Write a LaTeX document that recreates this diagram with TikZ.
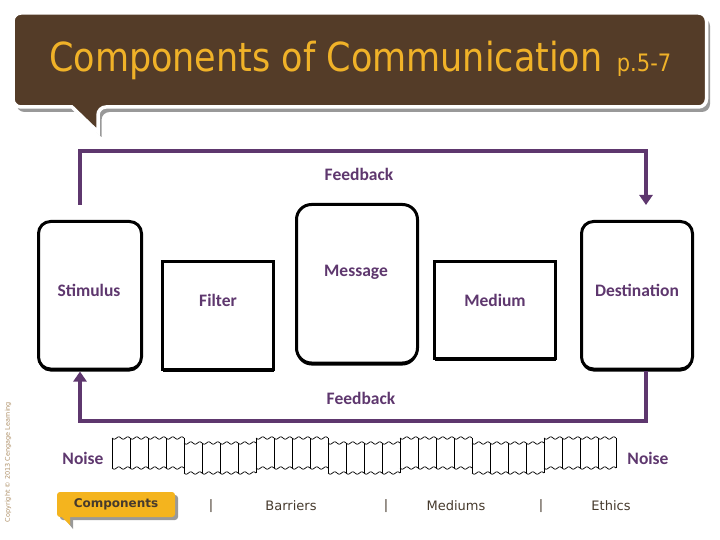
\documentclass[tikz,border=0pt]{standalone}
\usepackage{fontspec}
\usepackage{tikz}
\usetikzlibrary{arrows.meta,shadows}
\newfontfamily\lblfont{Carlito}
\newfontfamily\ttlfont[FakeStretch=0.875]{DejaVu Sans}
\newfontfamily\menufont{DejaVu Sans}
\definecolor{ttlbrown}{RGB}{84,60,40}
\definecolor{ttlgold}{RGB}{240,178,40}
\definecolor{fbpurple}{RGB}{94,55,110}
\definecolor{menubrown}{RGB}{70,58,45}
\definecolor{btngold}{RGB}{244,180,30}
\definecolor{copytan}{RGB}{175,145,105}

\begin{document}
\begin{tikzpicture}[x=1pt,y=-1pt,
  box/.style n args={2}{draw,fill=white,line width=3pt,minimum width=#1,minimum height=#2,inner sep=0pt,drop shadow={shadow xshift=0pt,shadow yshift=-2.5pt,fill=black,opacity=1}},
  rbox/.style n args={3}{box={#1}{#2},rounded corners=#3},
  lbl/.style={font=\lblfont\bfseries\fontsize{17.5}{21}\selectfont,text=fbpurple,inner sep=0pt},
  ttl/.style={font=\ttlfont\fontsize{40}{44}\selectfont,text=ttlgold,inner sep=0pt},
  fb/.style={draw=fbpurple,line width=4pt,-{Triangle[width=13pt,length=10pt]}},
  wave/.style={line width=0.7pt},
  menu/.style={font=\menufont\fontsize{13}{15}\selectfont,text=menubrown,inner sep=0pt},
  btn/.style={fill=btngold,rounded corners=3pt,minimum width=118pt,minimum height=25pt,inner sep=0pt,font=\menufont\bfseries\fontsize{12}{14}\selectfont,text=menubrown,drop shadow={shadow xshift=3pt,shadow yshift=-3pt,fill=gray!80,opacity=1}}]
\useasboundingbox (0,0) rectangle (720,540);
% title banner
\path[fill=ttlbrown,draw=white,line width=3.5pt,drop shadow={shadow xshift=3.5pt,shadow yshift=-5pt,fill=gray!80,opacity=1}]
  (98,107) -- (98,132) -- (72,107) [rounded corners=8pt] -- (13,107) -- (13,13) -- (706.5,13) -- (706.5,107) -- cycle;
\node[ttl,anchor=base west] (ttl) at (49,72) {Components of Communication};
\node[ttl,anchor=base west,font=\ttlfont\fontsize{24}{28}\selectfont] (pg) at ([xshift=14pt]ttl.base east) {p.5-7};
% boxes
\node[rbox={103pt}{147.5pt}{12pt}] (stim) at (90,295.25) {};
\node[box={111pt}{107.5pt}] (filt) at (218,315.25) {};
\node[rbox={121pt}{158.5pt}{15pt}] (msg) at (357,283.75) {};
\node[box={121pt}{96.5pt}] (med) at (495,309.75) {};
\node[rbox={111pt}{147.5pt}{12pt}] (dest) at (637,295.25) {};
\node[lbl] (stimT) at (89,290) {Stimulus};
\node[lbl] (filtT) at (218,300) {Filter};
\node[lbl] (msgT) at (356,272) {Message};
\node[lbl] (medT) at (495,300) {Medium};
\node[lbl] (destT) at (637,290) {Destination};
% feedback loops
\coordinate (fbL) at (80,0);
\coordinate (fbR) at (646,0);
\draw[fb,shorten <=15pt,shorten >=15pt] (stim.north -| fbL) -- ++(0,-68.5) -| (dest.north -| fbR);
\draw[fb,shorten >=1pt] (dest.south -| fbR) -- ++(0,50.5) -| (stim.south -| fbL);
\node[lbl] (fbTop) at (359,174) {Feedback};
\node[lbl] (fbBot) at (361,398) {Feedback};
% noise band
\node[lbl] (noiseL) at (83,458) {Noise};
\node[lbl] (noiseR) at (648,458) {Noise};
\foreach \k in {0,...,6} {
  \pgfmathsetmacro\xa{112+72*\k}
  \pgfmathsetmacro\ya{438+5*mod(\k,2)}
  \draw[wave] plot[domain=0:72,samples=73,smooth] ({\xa+\x},{\ya+1.2*sin(40*\x)});
  \draw[wave] plot[domain=0:72,samples=73,smooth] ({\xa+\x},{\ya+30+1.2*sin(40*\x)});
  \foreach \j in {0,...,4}
    \draw[wave] (\xa+18*\j,\ya) -- (\xa+18*\j,\ya+30);
}
% menu bar
\fill[gray!80] (65,519) -- (73,529) -- (73,519) -- cycle;
\node[btn] (comp) at (116,504.5) {Components};
\fill[btngold] (61,516) -- (70,525) -- (70,516) -- cycle;
\foreach \x/\t [count=\i] in {211/|,291/Barriers,386/|,456/Mediums,541/|,611/Ethics} {
  \node[menu] (menu\i) at (\x,506) {\t};
}
\node[rotate=90,font=\menufont\fontsize{6.5}{8}\selectfont,text=copytan,inner sep=0pt] (copy) at (8,462) {Copyright © 2013 Cengage Learning};
\end{tikzpicture}
\end{document}
